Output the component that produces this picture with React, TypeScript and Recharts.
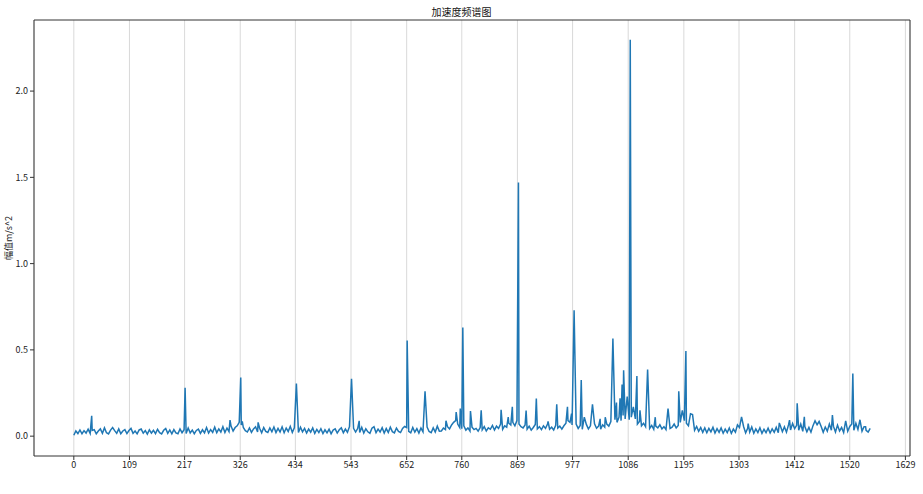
import React from 'react';
import { LineChart, Line, XAxis, YAxis, CartesianGrid, ReferenceLine, Label } from 'recharts';

// spectrum noise floor, one reading every 4 bins (bin 0 .. 1560)
const binStep = 4;
const floorValues = [
  0.005, 0.03, 0.015, 0.036, 0.014, 0.032, 0.018, 0.04, 0.016, 0.033, 0.038, 0.014, 0.03, 0.042, 0.017, 0.048, 0.02, 0.013, 0.035, 0.05,
  0.032, 0.016, 0.042, 0.014, 0.03, 0.038, 0.015, 0.033, 0.045, 0.016, 0.03, 0.013, 0.036, 0.041, 0.017, 0.032, 0.012, 0.037, 0.018, 0.034,
  0.015, 0.04, 0.02, 0.013, 0.034, 0.044, 0.016, 0.036, 0.013, 0.038, 0.019, 0.014, 0.042, 0.02, 0.037, 0.016, 0.047, 0.019, 0.035, 0.014,
  0.033, 0.041, 0.016, 0.037, 0.019, 0.05, 0.018, 0.038, 0.022, 0.052, 0.02, 0.042, 0.024, 0.055, 0.021, 0.047, 0.027, 0.058, 0.03, 0.05,
  0.06, 0.075, 0.064, 0.05, 0.032, 0.024, 0.048, 0.022, 0.042, 0.054, 0.024, 0.046, 0.019, 0.05, 0.028, 0.022, 0.048, 0.025, 0.053, 0.021,
  0.045, 0.024, 0.054, 0.02, 0.047, 0.027, 0.057, 0.022, 0.049, 0.029, 0.021, 0.052, 0.025, 0.045, 0.018, 0.041, 0.023, 0.048, 0.016, 0.039,
  0.021, 0.043, 0.015, 0.037, 0.019, 0.04, 0.014, 0.035, 0.042, 0.018, 0.037, 0.048, 0.02, 0.041, 0.022, 0.055, 0.07, 0.045, 0.024, 0.044,
  0.022, 0.051, 0.018, 0.043, 0.025, 0.016, 0.046, 0.055, 0.02, 0.041, 0.024, 0.049, 0.018, 0.044, 0.021, 0.052, 0.026, 0.019, 0.047, 0.027,
  0.021, 0.045, 0.056, 0.05, 0.028, 0.019, 0.05, 0.023, 0.044, 0.018, 0.047, 0.025, 0.021, 0.053, 0.027, 0.02, 0.048, 0.024, 0.058, 0.029,
  0.03, 0.047, 0.038, 0.055, 0.042, 0.065, 0.08, 0.09, 0.07, 0.05, 0.043, 0.06, 0.035, 0.048, 0.03, 0.052, 0.038, 0.045, 0.029, 0.05,
  0.036, 0.055, 0.03, 0.048, 0.04, 0.062, 0.035, 0.058, 0.045, 0.07, 0.04, 0.06, 0.052, 0.075, 0.065, 0.08, 0.06, 0.09, 0.07, 0.055,
  0.048, 0.065, 0.04, 0.058, 0.035, 0.05, 0.068, 0.042, 0.055, 0.038, 0.06, 0.045, 0.07, 0.04, 0.052, 0.036, 0.063, 0.047, 0.058, 0.041,
  0.06, 0.075, 0.09, 0.08, 0.065, 0.05, 0.07, 0.045, 0.062, 0.04, 0.055, 0.068, 0.042, 0.06, 0.05, 0.072, 0.046, 0.058, 0.04, 0.066,
  0.052, 0.07, 0.058, 0.085, 0.065, 0.095, 0.08, 0.11, 0.09, 0.12, 0.1, 0.13, 0.095, 0.11, 0.08, 0.1, 0.07, 0.085, 0.06, 0.075,
  0.055, 0.07, 0.045, 0.062, 0.04, 0.058, 0.048, 0.066, 0.042, 0.055, 0.038, 0.06, 0.045, 0.052, 0.07, 0.048, 0.062, 0.08, 0.065, 0.09,
  0.075, 0.06, 0.045, 0.068, 0.034, 0.056, 0.028, 0.05, 0.022, 0.048, 0.02, 0.045, 0.025, 0.051, 0.018, 0.043, 0.022, 0.048, 0.017, 0.041,
  0.021, 0.047, 0.016, 0.041, 0.023, 0.065, 0.05, 0.025, 0.056, 0.019, 0.046, 0.024, 0.053, 0.017, 0.042, 0.021, 0.049, 0.016, 0.04, 0.02,
  0.046, 0.018, 0.042, 0.022, 0.051, 0.02, 0.06, 0.026, 0.054, 0.023, 0.065, 0.036, 0.074, 0.044, 0.063, 0.034, 0.07, 0.028, 0.056, 0.025,
  0.051, 0.023, 0.061, 0.031, 0.066, 0.027, 0.056, 0.022, 0.053, 0.029, 0.07, 0.034, 0.058, 0.024, 0.064, 0.03, 0.05, 0.021, 0.056, 0.028,
  0.056, 0.07, 0.034, 0.075, 0.039, 0.06, 0.029, 0.055, 0.034, 0.024, 0.045,
];

// spectral peaks: bin index and amplitude
const peakBins = [
  35, 218, 306, 324, 327, 330, 361, 436, 544, 559, 653, 688, 729, 749, 757, 762, 777, 798, 837, 851,
  859, 871, 886, 906, 929, 946, 967, 975, 980, 994, 1000, 1016, 1031, 1041, 1056, 1063, 1070, 1074, 1077, 1084,
  1090, 1096, 1103, 1109, 1124, 1139, 1164, 1185, 1192, 1199, 1208, 1212, 1308, 1321, 1382, 1402, 1417, 1431, 1452, 1460,
  1486, 1512, 1526, 1540, 1551,
];
const peakValues = [
  0.118, 0.28, 0.093, 0.08, 0.34, 0.085, 0.08, 0.305, 0.332, 0.089, 0.555, 0.26, 0.089, 0.14, 0.16, 0.63, 0.145, 0.15, 0.153, 0.11,
  0.17, 1.47, 0.148, 0.218, 0.085, 0.185, 0.17, 0.13, 0.73, 0.325, 0.11, 0.185, 0.1, 0.11, 0.566, 0.195, 0.22, 0.3, 0.382, 0.23,
  2.297, 0.17, 0.348, 0.15, 0.386, 0.11, 0.16, 0.26, 0.15, 0.494, 0.13, 0.125, 0.112, 0.073, 0.077, 0.093, 0.19, 0.112, 0.089, 0.085,
  0.122, 0.088, 0.363, 0.095, 0.055,
];

const xTicks = [0, 109, 217, 326, 434, 543, 652, 760, 869, 977, 1086, 1195, 1303, 1412, 1520, 1629];
const yTicks = [0, 0.5, 1.0, 1.5, 2.0];

const X_DOMAIN: [number, number] = [-78, 1638];
const Y_DOMAIN: [number, number] = [-0.115, 2.412];

function buildSpectrum() {
  const byBin = new Map<number, number>();
  floorValues.forEach((v, i) => byBin.set(i * binStep, v));
  peakBins.forEach((b, i) => byBin.set(b, peakValues[i]));
  return Array.from(byBin.entries())
    .sort((a, b) => a[0] - b[0])
    .map(([bin, amp]) => ({ bin, amp }));
}

const font = '"Noto Sans CJK SC", "DejaVu Sans", sans-serif';
const axisColor = '#333';

export default function App() {
  const data = buildSpectrum();

  return (
    <div style={{ position: 'absolute', left: 0, top: 0, width: 923, height: 494, background: '#fff', fontFamily: font }}>
      <div style={{ position: 'absolute', top: 4, width: 923, textAlign: 'center', fontSize: 10, color: '#111' }}>
        加速度频谱图
      </div>
      <LineChart width={923} height={494} data={data} margin={{ top: 20, right: 13, bottom: 0, left: 0 }}>
        <CartesianGrid horizontal={false} stroke="#cfcfcf" strokeWidth={0.8} />
        <XAxis
          dataKey="bin"
          type="number"
          domain={X_DOMAIN}
          ticks={xTicks}
          allowDataOverflow
          height={38}
          tickSize={4}
          stroke={axisColor}
          tick={{ fontSize: 9, fill: '#222', fontFamily: font }}
        />
        <YAxis
          type="number"
          domain={Y_DOMAIN}
          ticks={yTicks}
          allowDataOverflow
          width={34}
          tickSize={4}
          stroke={axisColor}
          tickFormatter={(v: number) => v.toFixed(1)}
          tick={{ fontSize: 9, fill: '#222', fontFamily: font }}
        >
          <Label value="幅值m/s^2" angle={-90} position="insideLeft" offset={9} style={{ fontSize: 9, fill: '#222', fontFamily: font, textAnchor: 'middle' }} />
        </YAxis>
        <ReferenceLine y={Y_DOMAIN[1]} stroke={axisColor} />
        <ReferenceLine x={X_DOMAIN[1]} stroke={axisColor} />
        <Line
          type="linear"
          dataKey="amp"
          stroke="#1f77b4"
          strokeWidth={1.5}
          dot={false}
          isAnimationActive={false}
        />
      </LineChart>
    </div>
  );
}
